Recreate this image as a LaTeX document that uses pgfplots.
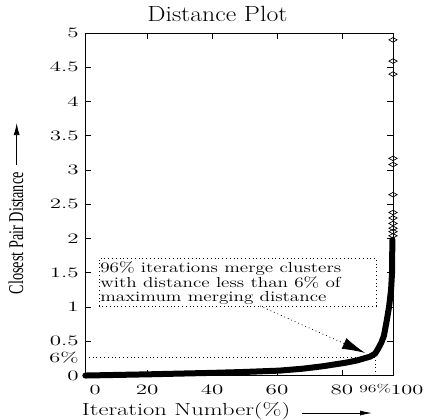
\documentclass[border=0pt]{standalone}
\usepackage{fontspec}
\newfontfamily\timesfont{Liberation Serif}
\usepackage{pgfplots}
\usepackage{pgfplotstable}
\pgfplotsset{compat=1.18}
\usetikzlibrary{arrows.meta}

% main band of the distance curve
\pgfplotstableread{
x     y
1.0   0.000
10.0  0.008
20.9  0.018
30.0  0.028
40.3  0.039
50.0  0.052
60.9  0.072
68.0  0.100
74.2  0.136
81.5  0.190
84.6  0.220
88.6  0.275
90.2  0.320
91.1  0.390
92.1  0.480
92.9  0.580
93.8  0.810
94.5  1.010
95.1  1.250
95.4  1.500
95.5  1.980
}\curvedata

% sparse points at the very end
\pgfplotstableread{
x     y
95.7  2.04
95.7  2.10
95.7  2.15
95.7  2.22
95.7  2.30
95.7  2.38
95.7  2.64
95.7  3.08
95.7  3.17
95.7  4.40
95.7  4.59
95.7  4.90
}\topdata

\tikzset{
  dots/.style={black, line width=0.8pt, dash pattern=on 0.8pt off 3pt},
  ticklab/.style={font=\fontsize{14}{14}\selectfont, xscale=1.6, inner sep=1pt},
}

\begin{document}
\begin{tikzpicture}
\begin{axis}[
  scale only axis,
  width=308pt, height=342.5pt,
  xmin=0.9, xmax=95.7,
  ymin=0, ymax=5,
  clip=false,
  xtick={20,40,60,80},
  ytick={0,0.5,1,1.5,2,2.5,3,3.5,4,4.5,5},
  extra x ticks={4,90.2},
  extra x tick labels={0,{\raisebox{3pt}{\fontsize{11}{11}\selectfont 96\%}}},
  extra x tick style={major tick length=0pt},
  extra y ticks={0.266},
  extra y tick labels={6\%},
  extra y tick style={major tick length=0pt},
  tick align=inside,
  major tick length=6pt,
  every tick/.style={black, line width=0.7pt},
  axis line style={black, line width=0.8pt},
  tick label style={ticklab},
  xticklabel style={yshift=-8pt},
  yticklabel style={inner xsep=3.75pt},
  every axis title shift=0pt,
  title={Distance Plot},
  title style={at={(axis description cs:0.430,1.033)}, anchor=base,
    font=\fontsize{22}{22}\selectfont, xscale=1.17, inner sep=0pt},
  xlabel={Iteration Number(\%)},
  xlabel style={at={(axis description cs:0.328,-0.1153)}, anchor=base,
    font=\fontsize{17.5}{17.5}\selectfont, xscale=1.4, inner sep=0pt},
  ylabel={Closest Pair Distance},
  ylabel style={at={(axis description cs:-0.224,0.415)}, anchor=center,
    font=\timesfont\fontsize{21}{21}\selectfont, xscale=0.68},
]
\path (rel axis cs:-0.276,-0.127) rectangle (rel axis cs:1.1136,1.0964);

\addplot[black, line width=6pt, line join=round, line cap=round] table {\curvedata};
\addplot[only marks, mark=diamond, mark size=2.3pt,
  mark options={xscale=2.4, fill=white, draw=black, line width=0.7pt}] table {\topdata};

% 6% / 96% guide lines
\draw[dots] (axis cs:0.9,0.266) -- (axis cs:90.2,0.266) -- (axis cs:90.2,0);

% annotation box and pointer
\draw[dots] (axis cs:5.23,1.015) rectangle (axis cs:90.5,1.715);
\node[anchor=north west, align=left, inner sep=0pt,
  font=\fontsize{14.5}{13.7}\selectfont, xscale=1.32] at (axis cs:5.54,1.66)
  {96\% iterations merge clusters\\with distance less than 6\% of\\maximum merging distance};
\draw[dots, -{Latex[length=23pt, width=11.7pt]}] (axis cs:54.8,1.015) -- (axis cs:87.1,0.33);

% tick label beyond the right edge
\node[ticklab, anchor=north, yshift=-8pt] at (axis cs:100,0) {100};

% label arrows
\draw[black, line width=0.8pt, -{Latex[length=12pt, width=5pt]}]
  (rel axis cs:0.7045,-0.1095) -- (rel axis cs:0.9318,-0.1095);
\draw[black, line width=0.8pt, -{Latex[length=12pt, width=6pt]}]
  (rel axis cs:-0.2218,0.6146) -- (rel axis cs:-0.2218,0.737);
\end{axis}
\end{tikzpicture}
\end{document}
